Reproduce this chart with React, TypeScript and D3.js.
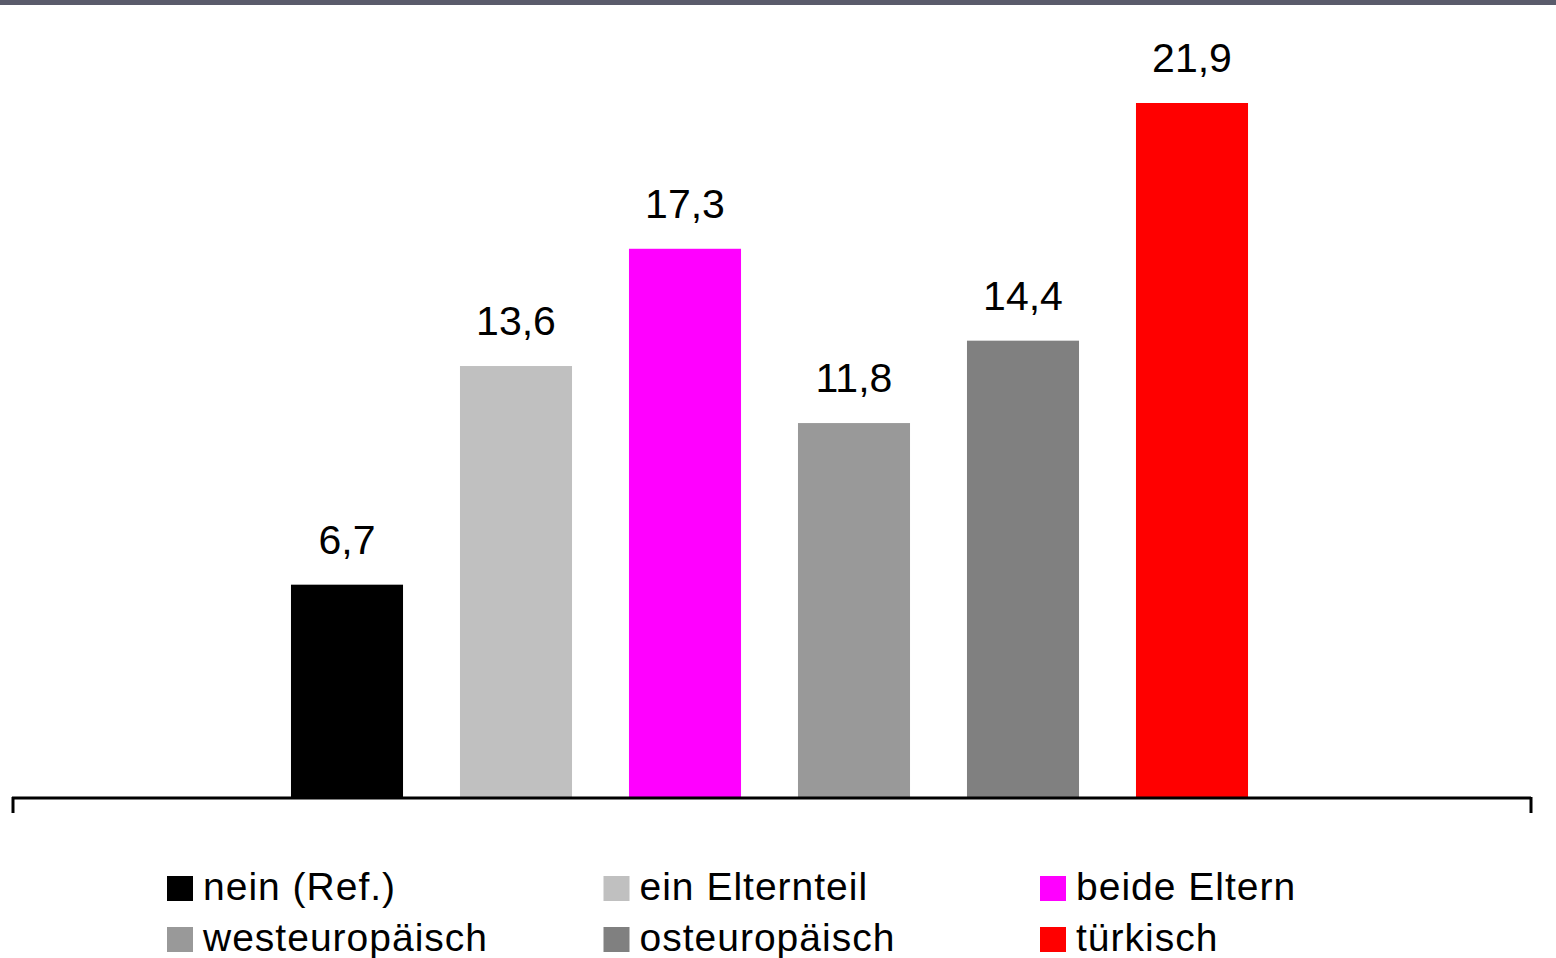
import React from "react";
import * as d3 from "d3";

const categories = ["nein (Ref.)", "ein Elternteil", "beide Eltern", "westeuropäisch", "osteuropäisch", "türkisch"];
const values = [6.7, 13.6, 17.3, 11.8, 14.4, 21.9];
const colors = ["#000000", "#c0c0c0", "#ff00ff", "#999999", "#808080", "#ff0000"];

const W = 1556;
const H = 958;
const baseY = 797;
const fmt = (v: number) => v.toFixed(1).replace(".", ",");

export default function App() {
  const x = d3.scaleBand<string>().domain(categories).range([262.5, 1276.5]).paddingInner(0.337).paddingOuter(0.1685);
  const y = d3.scaleLinear().domain([0, 21.9]).range([baseY, 103]);
  const font = "'Liberation Sans', Arial, sans-serif";

  return (
    <svg width={W} height={H} style={{ position: "absolute", left: 0, top: 0, background: "#fff" }}>
      <rect x={0} y={0} width={W} height={5} fill="#5a5b6b" />
      {categories.map((c, i) => {
        const bx = x(c)!;
        return (
          <g key={c}>
            <rect x={bx} y={y(values[i])} width={x.bandwidth()} height={baseY - y(values[i])} fill={colors[i]} />
            <text x={bx + x.bandwidth() / 2} y={y(values[i]) - 31} textAnchor="middle" fontFamily={font} fontSize={41} fill="#000">
              {fmt(values[i])}
            </text>
          </g>
        );
      })}
      <line x1={12} x2={1531} y1={798} y2={798} stroke="#000" strokeWidth={3} />
      <line x1={13} x2={13} y1={797} y2={813} stroke="#000" strokeWidth={3} />
      <line x1={1531} x2={1531} y1={797} y2={813} stroke="#000" strokeWidth={3} />
      {categories.map((c, i) => {
        const col = i % 3;
        const row = Math.floor(i / 3);
        const lx = 167 + col * 436.5;
        const ly = 876 + row * 51;
        return (
          <g key={"lg" + c}>
            <rect x={lx} y={ly} width={26} height={25} fill={colors[i]} />
            <text x={lx + 36} y={ly + 24} fontFamily={font} fontSize={39} letterSpacing={1} fill="#000">
              {c}
            </text>
          </g>
        );
      })}
    </svg>
  );
}
